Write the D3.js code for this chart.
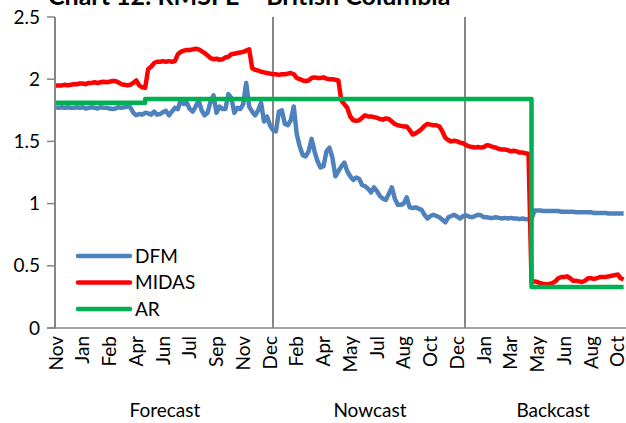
<!DOCTYPE html>
<html>
<head>
<meta charset="utf-8">
<script src="https://cdn.jsdelivr.net/npm/d3@7"></script>
<style>
  body { margin: 0; background: #fff; }
  text { font-family: Lato, "Open Sans", sans-serif; fill: #000; }
</style>
</head>
<body>
<div id="chart"></div>
<script>
//set data
var monthLabels = ["Nov","Jan","Feb","Apr","Jun","Jul","Sep","Nov","Dec","Feb","Apr",
  "May","Jul","Aug","Oct","Dec","Jan","Mar","May","Jun","Aug","Oct"];
var labelEvery = 9; // points between month labels
var sections = ["Forecast","Nowcast","Backcast"];
var sectionBreaks = [0, 73.3, 138, 196.5]; // in point index
var yTicks = [0, 0.5, 1, 1.5, 2, 2.5];

var dfm = [1.775,1.77,1.775,1.77,1.775,1.77,1.77,1.775,1.77,1.775,
  1.765,1.77,1.775,1.77,1.765,1.775,1.77,1.77,1.765,1.76,
  1.765,1.775,1.77,1.775,1.78,1.775,1.73,1.71,1.72,1.715,
  1.73,1.725,1.715,1.74,1.715,1.72,1.735,1.745,1.71,1.74,
  1.77,1.76,1.83,1.80,1.81,1.76,1.74,1.78,1.83,1.75,
  1.71,1.73,1.82,1.87,1.73,1.78,1.76,1.76,1.88,1.85,
  1.73,1.77,1.76,1.80,1.97,1.78,1.74,1.71,1.75,1.81,
  1.66,1.70,1.63,1.59,1.58,1.74,1.75,1.64,1.63,1.67,
  1.78,1.56,1.46,1.39,1.38,1.42,1.52,1.42,1.34,1.29,
  1.30,1.42,1.45,1.37,1.22,1.26,1.30,1.33,1.26,1.22,
  1.19,1.21,1.20,1.15,1.14,1.12,1.09,1.13,1.10,1.06,
  1.04,1.03,1.08,1.13,1.04,0.99,0.99,1.00,1.05,0.97,
  0.965,0.97,0.96,0.95,0.91,0.88,0.90,0.91,0.90,0.89,
  0.87,0.85,0.89,0.90,0.91,0.895,0.88,0.90,0.905,0.895,
  0.89,0.90,0.91,0.905,0.89,0.89,0.885,0.885,0.89,0.885,
  0.88,0.885,0.88,0.885,0.88,0.88,0.875,0.88,0.875,0.875,
  0.875,0.945,0.945,0.945,0.94,0.94,0.94,0.94,0.94,0.94,
  0.935,0.935,0.935,0.935,0.935,0.93,0.93,0.93,0.93,0.93,
  0.93,0.925,0.925,0.925,0.925,0.925,0.92,0.92,0.92,0.92,
  0.92,0.92];

var midas = [1.95,1.95,1.95,1.955,1.95,1.955,1.96,1.96,1.965,1.965,
  1.96,1.97,1.97,1.975,1.97,1.975,1.98,1.975,1.98,1.985,
  1.985,1.975,1.96,1.955,1.95,1.955,1.97,1.99,1.95,1.935,
  1.93,2.08,2.10,2.13,2.14,2.14,2.145,2.14,2.145,2.14,
  2.145,2.20,2.22,2.23,2.235,2.235,2.24,2.245,2.24,2.225,
  2.21,2.19,2.17,2.16,2.165,2.155,2.16,2.175,2.18,2.20,
  2.205,2.21,2.215,2.22,2.23,2.24,2.09,2.075,2.07,2.06,
  2.055,2.05,2.045,2.04,2.04,2.035,2.04,2.04,2.045,2.05,
  2.04,2.01,2.00,1.99,1.985,1.99,2.01,2.015,2.01,2.01,
  2.015,2.005,2.00,2.00,1.995,1.99,1.83,1.80,1.77,1.70,
  1.67,1.665,1.67,1.69,1.71,1.70,1.70,1.695,1.69,1.68,
  1.675,1.685,1.68,1.66,1.64,1.63,1.625,1.62,1.62,1.59,
  1.555,1.565,1.58,1.60,1.625,1.64,1.635,1.63,1.63,1.62,
  1.58,1.53,1.51,1.50,1.505,1.50,1.49,1.485,1.47,1.46,
  1.455,1.45,1.455,1.45,1.455,1.47,1.465,1.455,1.45,1.44,
  1.435,1.435,1.43,1.42,1.425,1.42,1.41,1.41,1.405,1.40,
  0.37,0.375,0.37,0.36,0.355,0.35,0.355,0.36,0.375,0.40,
  0.41,0.41,0.415,0.40,0.38,0.38,0.375,0.37,0.38,0.40,
  0.40,0.395,0.40,0.41,0.41,0.41,0.415,0.42,0.425,0.43,
  0.40,0.39];

var ar = [1.81,1.81,1.81,1.81,1.81,1.81,1.81,1.81,1.81,1.81,
  1.81,1.81,1.81,1.81,1.81,1.81,1.81,1.81,1.81,1.81,
  1.81,1.81,1.81,1.81,1.81,1.81,1.81,1.81,1.81,1.81,
  1.84,1.84,1.84,1.84,1.84,1.84,1.84,1.84,1.84,1.84,
  1.84,1.84,1.84,1.84,1.84,1.84,1.84,1.84,1.84,1.84,
  1.84,1.84,1.84,1.84,1.84,1.84,1.84,1.84,1.84,1.84,
  1.84,1.84,1.84,1.84,1.84,1.84,1.84,1.84,1.84,1.84,
  1.84,1.84,1.84,1.84,1.84,1.84,1.84,1.84,1.84,1.84,
  1.84,1.84,1.84,1.84,1.84,1.84,1.84,1.84,1.84,1.84,
  1.84,1.84,1.84,1.84,1.84,1.84,1.84,1.84,1.84,1.84,
  1.84,1.84,1.84,1.84,1.84,1.84,1.84,1.84,1.84,1.84,
  1.84,1.84,1.84,1.84,1.84,1.84,1.84,1.84,1.84,1.84,
  1.84,1.84,1.84,1.84,1.84,1.84,1.84,1.84,1.84,1.84,
  1.84,1.84,1.84,1.84,1.84,1.84,1.84,1.84,1.84,1.84,
  1.84,1.84,1.84,1.84,1.84,1.84,1.84,1.84,1.84,1.84,
  1.84,1.84,1.84,1.84,1.84,1.84,1.84,1.84,1.84,1.84,
  0.33,0.33,0.33,0.33,0.33,0.33,0.33,0.33,0.33,0.33,
  0.33,0.33,0.33,0.33,0.33,0.33,0.33,0.33,0.33,0.33,
  0.33,0.33,0.33,0.33,0.33,0.33,0.33,0.33,0.33,0.33,
  0.33,0.33];

var series = [
  {name: "DFM", values: dfm, color: "#4F81BD", curve: d3.curveLinear},
  {name: "MIDAS", values: midas, color: "#FF0000", curve: d3.curveLinear},
  {name: "AR", values: ar, color: "#00B050", curve: d3.curveStepAfter}
];

//set up svg
var width = 626, height = 423;
var svg = d3.select("#chart").append("svg")
  .attr("width", width).attr("height", height);

var x = d3.scaleLinear().domain([0, 196.5]).range([56, 640]);
var y = d3.scaleLinear().domain([0, 2.5]).range([328, 17]);
var axisGray = "#868686";

//title (cut off at top in the original)
svg.append("text")
  .attr("x", 48).attr("y", 5)
  .style("font-size", "25px").style("font-weight", "bold")
  .text("Chart 12: RMSFE \u2013 British Columbia");

//section divider lines
svg.selectAll(".divider")
  .data(sectionBreaks.slice(0, 3))
  .enter().append("line")
  .attr("class", "divider")
  .attr("x1", function(d) { return Math.round(x(d)) - 1; })
  .attr("x2", function(d) { return Math.round(x(d)) - 1; })
  .attr("y1", y(2.5)).attr("y2", y(0))
  .attr("stroke", axisGray).attr("stroke-width", 2);

//y axis ticks + labels
svg.selectAll(".ytick")
  .data(yTicks)
  .enter().append("line")
  .attr("x1", 47).attr("x2", 55)
  .attr("y1", function(d) { return y(d); })
  .attr("y2", function(d) { return y(d); })
  .attr("stroke", axisGray).attr("stroke-width", 1.5);

svg.selectAll(".ylab")
  .data(yTicks)
  .enter().append("text")
  .attr("x", 40)
  .attr("y", function(d) { return y(d); })
  .attr("dy", "0.35em")
  .attr("text-anchor", "end")
  .style("font-size", "19px")
  .text(function(d) { return d; });

//x axis line
svg.append("line")
  .attr("x1", 47).attr("x2", width)
  .attr("y1", y(0)).attr("y2", y(0))
  .attr("stroke", axisGray).attr("stroke-width", 1.5);

//month labels, rotated
svg.selectAll(".xlab")
  .data(monthLabels)
  .enter().append("text")
  .attr("transform", function(d, i) {
    return "translate(" + x(i * labelEvery) + ",336) rotate(-90)";
  })
  .attr("dy", "0.35em")
  .attr("text-anchor", "end")
  .style("font-size", "19px")
  .text(function(d) { return d; });

//section names
svg.selectAll(".sec")
  .data(sections)
  .enter().append("text")
  .attr("x", function(d, i) { return (x(sectionBreaks[i]) + x(sectionBreaks[i + 1])) / 2; })
  .attr("y", 417)
  .attr("text-anchor", "middle")
  .style("font-size", "19px")
  .text(function(d) { return d; });

//series lines
series.forEach(function(s) {
  var line = d3.line()
    .x(function(d, i) { return x(i); })
    .y(function(d) { return y(d); })
    .curve(s.curve);
  svg.append("path")
    .datum(s.values)
    .attr("fill", "none")
    .attr("stroke", s.color)
    .attr("stroke-width", 4.5)
    .attr("stroke-linejoin", "round")
    .attr("d", line);
});

//legend
var legend = svg.selectAll(".legend")
  .data(series)
  .enter().append("g")
  .attr("transform", function(d, i) { return "translate(78," + (256 + i * 26.5) + ")"; });

legend.append("line")
  .attr("x1", 0).attr("x2", 52)
  .attr("stroke", function(d) { return d.color; })
  .attr("stroke-width", 4.5)
  .attr("stroke-linecap", "round");

legend.append("text")
  .attr("x", 57).attr("dy", "0.35em")
  .style("font-size", "19px")
  .text(function(d) { return d.name; });
</script>
</body>
</html>
